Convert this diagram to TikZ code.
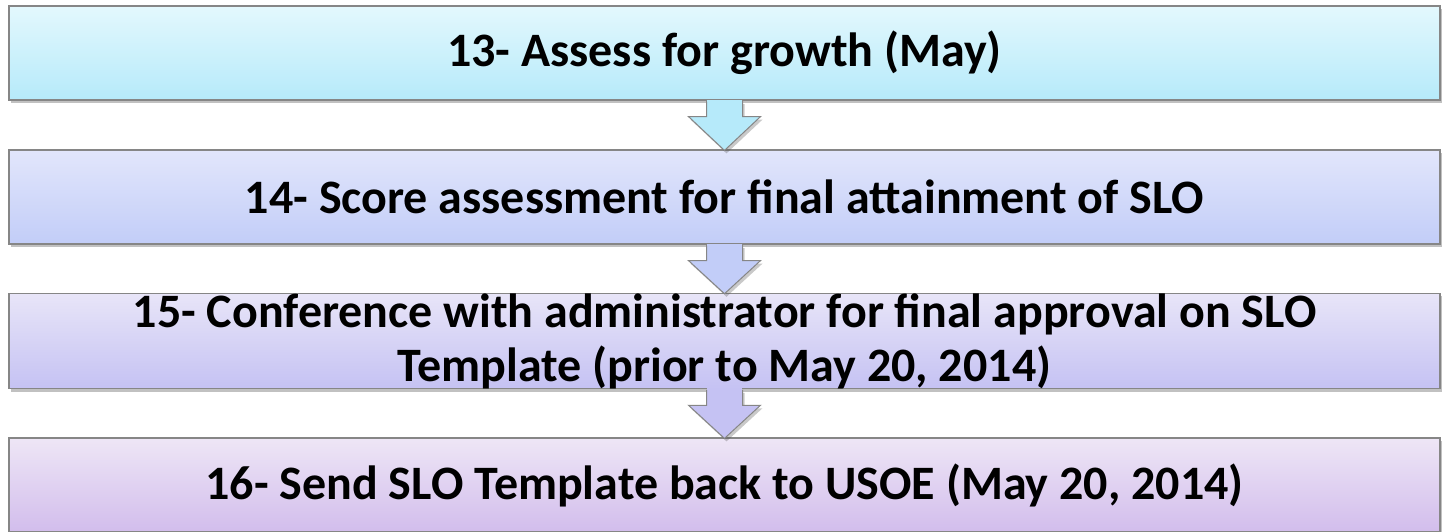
\documentclass[tikz,border=0pt]{standalone}
\usepackage{fontspec}
\setmainfont{Carlito}
\usetikzlibrary{shadows,calc}
\definecolor{aT}{HTML}{E3F8FD}\definecolor{aB}{HTML}{B6EAFA}
\definecolor{bT}{HTML}{E2E6FB}\definecolor{bB}{HTML}{C2CDF8}
\definecolor{cT}{HTML}{E8E5F8}\definecolor{cB}{HTML}{C5C2F3}
\definecolor{dT}{HTML}{EEE6F6}\definecolor{dB}{HTML}{D2BDEC}
\definecolor{edge}{HTML}{868686}
\tikzset{
  stepbox/.style={draw=edge, line width=1.2pt, minimum width=1431pt, minimum height=94pt,
    inner sep=0pt, align=center, font=\fontsize{48}{54}\selectfont\bfseries,
    drop shadow={shadow xshift=2pt, shadow yshift=-3pt, opacity=0.35, fill=black!70}},
  downarrow/.style={draw=edge, line width=1pt, line join=miter,
    drop shadow={shadow xshift=2pt, shadow yshift=-3pt, opacity=0.3, fill=black!70}}
}
\begin{document}
\begin{tikzpicture}[x=1pt,y=-1pt]
\useasboundingbox (0,0) rectangle (1446,531);
\node[stepbox, top color=aT, bottom color=aB] (b13) at (724.5,53) {13- Assess for growth (May)};
\node[stepbox, top color=bT, bottom color=bB] (b14) at (724.5,197) {14- Score assessment for final attainment of SLO};
\node[stepbox, top color=cT, bottom color=cB] (b15) at (724.5,341) {15- Conference with administrator for final approval on SLO\\Template (prior to May 20, 2014)};
\node[stepbox, top color=dT, bottom color=dB] (b16) at (724.5,485) {16- Send SLO Template back to USOE (May 20, 2014)};
\foreach \a/\b/\c in {b13/b14/aB, b14/b15/bB, b15/b16/cB}{
  \path[downarrow, fill=\c]
    ($(\a.south)+(-18,0.6)$) -- ($(\a.south)+(-18,16)$) -- ($(\a.south)+(-36,16)$)
    -- ($(\b.north)+(0,1)$) -- ($(\a.south)+(36,16)$) -- ($(\a.south)+(18,16)$)
    -- ($(\a.south)+(18,0.6)$);
  \fill[\c] ($(\a.south)+(-17.4,-1)$) rectangle ($(\a.south)+(17.4,1)$);
}
\end{tikzpicture}
\end{document}
